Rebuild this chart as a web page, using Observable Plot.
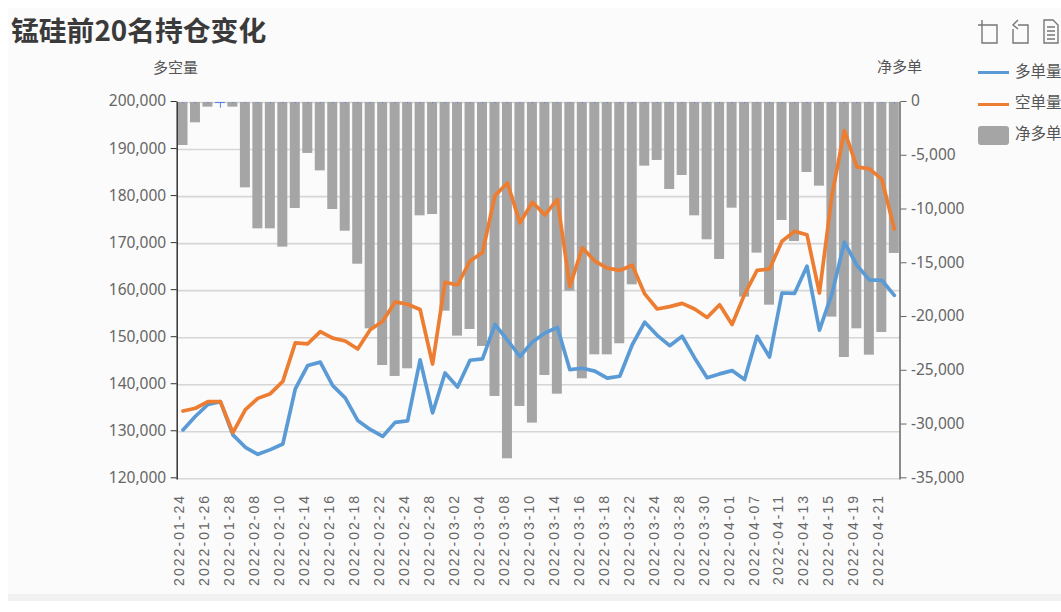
<!DOCTYPE html>
<html><head><meta charset="utf-8">
<script src="https://cdn.jsdelivr.net/npm/d3@7"></script>
<script src="https://cdn.jsdelivr.net/npm/@observablehq/plot@0.6"></script>
<style>
html,body{margin:0;padding:0;background:#fff;}
body{width:1061px;height:612px;position:relative;overflow:hidden;font-family:"Noto Sans CJK SC","Noto Sans",sans-serif;}
#panel{position:absolute;left:8px;top:8px;width:1053px;height:586px;background:#fbfbfb;}
#strip{position:absolute;left:8px;top:594px;width:1053px;height:7px;background:#f1f1f1;}
#chart{position:absolute;left:0;top:0;}
#chart svg{background:transparent;}
.t{position:absolute;white-space:nowrap;color:#555;line-height:1;}
#title{left:11px;top:16px;font-size:27.8px;font-weight:700;color:#3a3a3a;}
.lg{position:absolute;left:978px;width:31px;}
g[aria-label="x-axis tick label"] text{letter-spacing:2.05px;}
</style></head><body>
<div id="panel"></div><div id="strip"></div>
<div id="chart"></div>
<div class="t" id="title">锰硅前20名持仓变化</div>
<div class="t" style="left:153px;top:59px;font-size:15px">多空量</div>
<div class="t" style="left:877px;top:58px;font-size:15px">净多单</div>
<div class="lg" style="top:71px;height:2.5px;background:#5b9bd5"></div>
<div class="lg" style="top:103px;height:2.5px;background:#ed7d31"></div>
<div class="lg" style="top:126px;height:19px;border-radius:3px;background:#a5a5a5"></div>
<div class="t" style="left:1015px;top:63px;font-size:15.5px">多单量</div>
<div class="t" style="left:1015px;top:94px;font-size:15.5px">空单量</div>
<div class="t" style="left:1015px;top:125px;font-size:15.5px">净多单</div>
<svg style="position:absolute;left:976px;top:18px" width="85" height="30" fill="none" stroke="#777" stroke-width="1.4">
<path d="M6 2V25H21V7H2"/>
<path d="M42 7H52V25H37V11M42 2L37 7L42 11"/>
<path d="M68 2H77L82 7V25H68ZM71 9H79M71 13H79M71 17H79M71 21H79"/>
</svg>
<script>
const dates = ["2022-01-24","2022-01-25","2022-01-26","2022-01-27","2022-01-28","2022-02-07","2022-02-08","2022-02-09","2022-02-10","2022-02-11","2022-02-14","2022-02-15","2022-02-16","2022-02-17","2022-02-18","2022-02-21","2022-02-22","2022-02-23","2022-02-24","2022-02-25","2022-02-28","2022-03-01","2022-03-02","2022-03-03","2022-03-04","2022-03-07","2022-03-08","2022-03-09","2022-03-10","2022-03-11","2022-03-14","2022-03-15","2022-03-16","2022-03-17","2022-03-18","2022-03-21","2022-03-22","2022-03-23","2022-03-24","2022-03-25","2022-03-28","2022-03-29","2022-03-30","2022-03-31","2022-04-01","2022-04-06","2022-04-07","2022-04-08","2022-04-11","2022-04-12","2022-04-13","2022-04-14","2022-04-15","2022-04-18","2022-04-19","2022-04-20","2022-04-21","2022-04-22"];
const longs = [130400,133300,135800,136400,129350,126700,125200,126200,127400,139100,144100,144800,139800,137200,132400,130500,129000,132000,132300,145300,134000,142500,139500,145200,145500,152800,149500,146000,149100,151000,152200,143200,143500,142900,141400,141800,148500,153300,150500,148300,150300,145700,141500,142300,143000,141100,150300,145900,159500,159400,165200,151600,159300,170300,165400,162300,162200,159000];
const shorts = [134400,135000,136400,136400,129800,134700,137100,138100,140700,148900,148700,151300,149900,149300,147600,151700,153500,157600,157100,156000,144400,161800,161200,166300,168100,180200,182900,174400,178800,176100,179400,160900,169100,166300,164800,164300,165400,159300,156100,156600,157300,156100,154300,157000,152800,159200,164300,164600,170500,172600,171900,159500,180200,194000,186300,185900,183700,173100];
const net = [-4000,-1890,-430,0,-430,-7940,-11750,-11750,-13450,-9860,-4740,-6360,-9950,-11970,-15040,-21050,-24460,-25480,-24770,-10540,-10420,-19410,-21730,-21110,-22690,-27340,-33140,-28270,-29820,-25390,-27130,-17550,-25700,-23470,-23470,-22440,-16960,-5920,-5390,-8090,-6790,-10540,-12770,-14600,-9830,-18100,-14010,-18850,-10970,-12930,-6510,-7780,-19960,-23720,-21050,-23500,-21390,-14040];
const leftTicks = [120000,130000,140000,150000,160000,170000,180000,190000,200000];
const rightTicks = [0,-5000,-10000,-15000,-20000,-25000,-30000,-35000];
const xLabels = dates.filter((d,i)=>i%2===0);

// the right-hand axis is a linear rescale of the left-hand y domain
const toLeft = v => 200000 + v*80000/35000;
const fmt = d3.format(",");
const rows = dates.map((d,i)=>({d,long:longs[i],short:shorts[i],net:net[i]}));
const F = '"Noto Sans","Noto Sans CJK SC",sans-serif';

const plot = Plot.plot({
  width:1061, height:590, marginTop:102, marginBottom:111.7, marginLeft:176.7, marginRight:161.5,
  style:{background:"transparent",overflow:"visible"},
  x:{type:"band",domain:dates,padding:0.2,round:false,range:[175,901.3],axis:null},
  y:{domain:[120000,200000],axis:null},
  marks:[
    Plot.ruleY(leftTicks,{stroke:"#d6d6d6",strokeWidth:1.6}),
    Plot.barY(rows,{x:"d",y1:()=>200000,y2:d=>toLeft(d.net),fill:"#a5a5a5"}),
    Plot.ruleX(rows,{x:"d",y1:()=>200000,y2:d=>d.net===0?198800:199750,stroke:"#5a7df0",strokeWidth:1}),
    Plot.tickY(rows.filter(d=>d.net===0),{x:"d",y:()=>200000,stroke:"#5a7df0",strokeWidth:1}),
    Plot.line(rows,{x:"d",y:"long",stroke:"#5b9bd5",strokeWidth:3.7}),
    Plot.line(rows,{x:"d",y:"short",stroke:"#ed7d31",strokeWidth:3.7}),
    Plot.frame({anchor:"left",stroke:"#333",strokeWidth:1.5}),
    Plot.frame({anchor:"right",stroke:"#666",strokeWidth:1.5}),
    Plot.axisY(leftTicks,{anchor:"left",tickSize:6,tickPadding:5,tickFormat:fmt,fontSize:15.5,fontFamily:F,color:"#666",dy:-1,stroke:"#333"}),
    Plot.axisY(rightTicks.map(toLeft),{anchor:"right",tickSize:6,tickPadding:5,tickFormat:v=>fmt(Math.round((v-200000)*35000/80000)).replace("−","-"),fontSize:15.5,fontFamily:F,color:"#666",dy:-1,stroke:"#666"}),
    Plot.axisX(xLabels,{anchor:"bottom",tickSize:0,tickPadding:15,tickRotate:-90,fontSize:14,fontFamily:'"Liberation Sans",sans-serif',color:"#666",dx:-3,label:null})
  ]
});
document.getElementById("chart").append(plot);
</script>
</body></html>
